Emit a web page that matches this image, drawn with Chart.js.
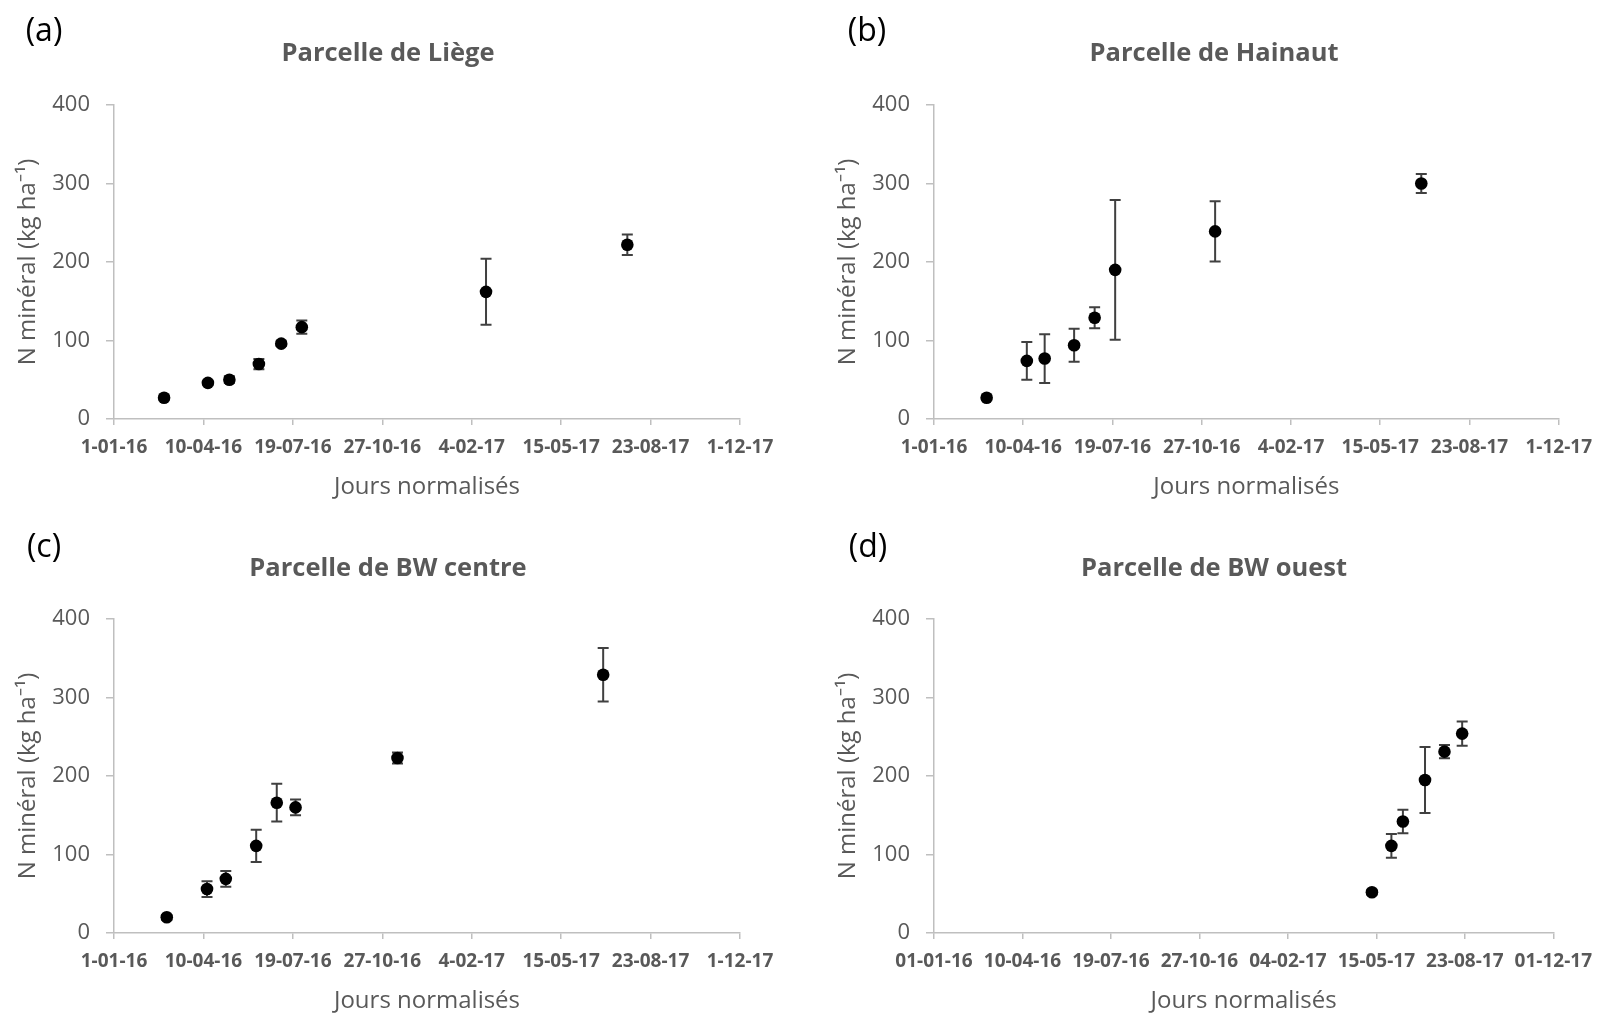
<!DOCTYPE html>
<html>
<head>
<meta charset="utf-8">
<script src="https://cdn.jsdelivr.net/npm/chart.js@4.4.0/dist/chart.umd.min.js"></script>
<style>
html, body { margin: 0; padding: 0; background: #fff; overflow: hidden; }
body { width: 1603px; height: 1013px; position: relative; font-family: "Open Sans", sans-serif; }
canvas { position: absolute; }
.lbl { position: absolute; transform: translate(-50%, -50%); white-space: nowrap; line-height: 1; }
.letter { font-size: 32px; color: #000; }
.title { font-size: 25.5px; font-weight: bold; color: #595959; }
</style>
</head>
<body>
<canvas id="cA" width="800" height="499" style="left:0;top:0"></canvas>
<canvas id="cB" width="803" height="499" style="left:800px;top:0"></canvas>
<canvas id="cC" width="800" height="499" style="left:0;top:514px"></canvas>
<canvas id="cD" width="803" height="499" style="left:800px;top:514px"></canvas>

<div class="lbl letter" style="left:44px;top:29px">(a)</div>
<div class="lbl letter" style="left:867px;top:29px">(b)</div>
<div class="lbl letter" style="left:44px;top:545px">(c)</div>
<div class="lbl letter" style="left:868px;top:545px">(d)</div>

<div class="lbl title" style="left:388px;top:52px">Parcelle de Liège</div>
<div class="lbl title" style="left:1214px;top:52px">Parcelle de Hainaut</div>
<div class="lbl title" style="left:388px;top:567px">Parcelle de BW centre</div>
<div class="lbl title" style="left:1214px;top:567px">Parcelle de BW ouest</div>

<script>
// jours depuis le 1-01-16
var xTicks = ['1-01-16', '10-04-16', '19-07-16', '27-10-16', '4-02-17', '15-05-17', '23-08-17', '1-12-17'];
var xTicksD = ['01-01-16', '10-04-16', '19-07-16', '27-10-16', '04-02-17', '15-05-17', '23-08-17', '01-12-17'];

var liegeDays = [56, 105, 129, 162, 187, 210, 416, 574];
var liegeN    = [27, 46, 50, 70, 96, 117, 162, 222];
var liegeErr  = [3, 3, 4, 6.5, 3, 8.5, 42, 13];

var hainautDays = [59, 104, 124, 157, 180, 203, 315, 546];
var hainautN    = [27, 74, 77, 94, 129, 190, 239, 300];
var hainautErr  = [3, 24, 31, 21, 13.5, 89, 38.5, 12];

var centreDays = [59, 104, 125, 159, 182, 203, 317, 547];
var centreN    = [20, 56, 69, 111, 166, 160, 223, 329];
var centreErr  = [3, 10, 10, 20.5, 24, 10, 7, 34];

var ouestDays = [495, 517, 530, 555, 577, 597];
var ouestN    = [52, 111, 142, 195, 231, 254];
var ouestErr  = [3, 15, 15, 42, 8.5, 15.5];

var grey = '#595959';
var axisGrey = '#bfbfbf';

// barres d'erreur dessinees sous les points
var errorBars = {
	id: 'errorBars',
	beforeDatasetsDraw: function (chart) {
		var ds = chart.data.datasets[0];
		var xs = chart.scales.x, ys = chart.scales.y;
		var ctx = chart.ctx;
		ctx.save();
		ctx.strokeStyle = '#404040';
		ctx.lineWidth = 2;
		for (var i = 0; i < ds.data.length; i++) {
			var p = ds.data[i];
			var e = ds.errors[i];
			var x = xs.getPixelForValue(p.x);
			var y1 = ys.getPixelForValue(p.y + e);
			var y2 = ys.getPixelForValue(p.y - e);
			ctx.beginPath();
			ctx.moveTo(x, y1); ctx.lineTo(x, y2);
			ctx.moveTo(x - 5.5, y1); ctx.lineTo(x + 5.5, y1);
			ctx.moveTo(x - 5.5, y2); ctx.lineTo(x + 5.5, y2);
			ctx.stroke();
		}
		ctx.restore();
	}
};

function makePanel(id, days, vals, errs, labels, padLeft, padRight) {
	var pts = [];
	for (var i = 0; i < days.length; i++) pts.push({x: days[i], y: vals[i]});
	var ctx = document.getElementById(id).getContext('2d');
	return new Chart(ctx, {
		type: 'scatter',
		data: {
			datasets: [{
				data: pts,
				errors: errs,
				pointRadius: 6.3,
				pointHoverRadius: 6.3,
				backgroundColor: '#000',
				borderWidth: 0
			}]
		},
		options: {
			responsive: false,
			animation: false,
			layout: { padding: { left: padLeft, right: padRight, top: 105, bottom: 0 } },
			plugins: { legend: { display: false }, tooltip: { enabled: false } },
			scales: {
				x: {
					type: 'linear',
					min: 0, max: 700,
					afterFit: function (s) { s.height = 80; },
					ticks: {
						stepSize: 100,
						autoSkip: false,
						maxRotation: 0,
						padding: 11,
						color: grey,
						font: { family: 'Open Sans', size: 19, weight: 'bold' },
						callback: function (v) { return labels[Math.round(v / 100)]; }
					},
					grid: { drawOnChartArea: false, drawTicks: true, tickLength: 6, color: axisGrey, lineWidth: 1.5 },
					border: { display: true, color: axisGrey, width: 1.5 },
					title: {
						display: true,
						text: 'Jours normalisés',
						color: grey,
						font: { family: 'Open Sans', size: 24, lineHeight: 1.0 },
						padding: { top: 0, bottom: 0 }
					}
				},
				y: {
					min: 0, max: 400,
					afterFit: function (s) { s.width = 114; },
					ticks: {
						stepSize: 100,
						padding: 16,
						color: grey,
						font: { family: 'Open Sans', size: 22 }
					},
					grid: { drawOnChartArea: false, drawTicks: true, tickLength: 8, color: axisGrey, lineWidth: 1.5 },
					border: { display: true, color: axisGrey, width: 1.5 },
					title: {
						display: true,
						text: 'N minéral (kg ha⁻¹)',
						color: grey,
						font: { family: 'Open Sans', size: 24 },
						padding: { top: 13.6, bottom: 0 }
					}
				}
			}
		},
		plugins: [errorBars]
	});
}

makePanel('cA', liegeDays, liegeN, liegeErr, xTicks, 0, 60);
makePanel('cB', hainautDays, hainautN, hainautErr, xTicks, 20, 39);
makePanel('cC', centreDays, centreN, centreErr, xTicks, 0, 60);
makePanel('cD', ouestDays, ouestN, ouestErr, xTicksD, 20, 44);
</script>
</body>
</html>
